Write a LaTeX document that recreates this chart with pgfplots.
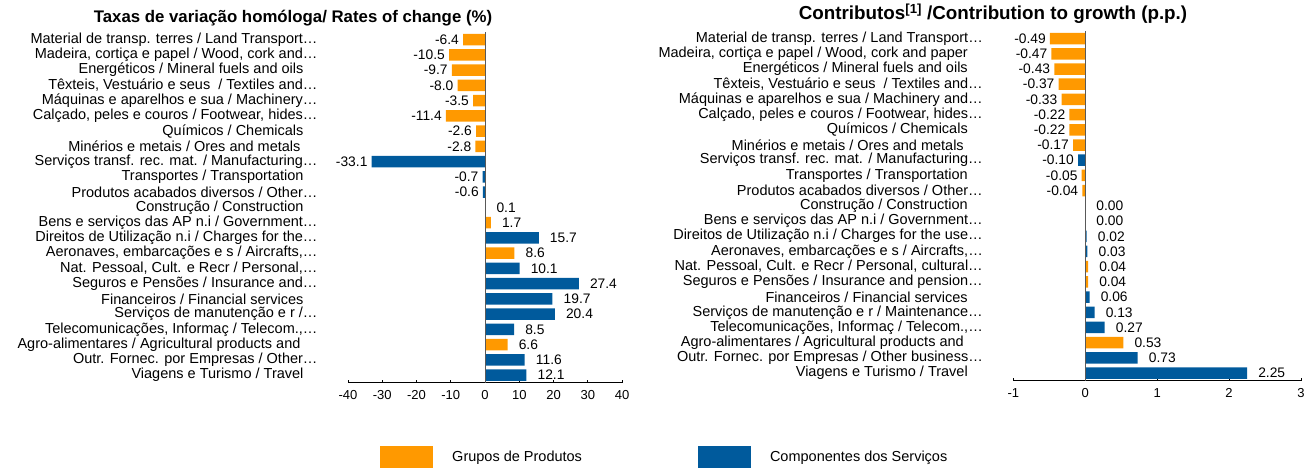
\documentclass[border=0pt]{standalone}
\usepackage{pgfplots}
\pgfplotsset{compat=1.18}
\usepackage{pgfplotstable}
\usepackage{fontspec}
\setmainfont{Liberation Sans}
\definecolor{cOrange}{HTML}{FF9900}
\definecolor{cBlue}{HTML}{005A9C}
\definecolor{zeroline}{HTML}{595959}

\pgfplotstableread{
row val
0 -6.4
1 -10.5
2 -9.7
3 -8.0
4 -3.5
5 -11.4
6 -2.6
7 -2.8
12 1.7
14 8.6
20 6.6
}\leftorange
\pgfplotstableread{
row val
8 -33.1
9 -0.7
10 -0.6
11 0.1
13 15.7
15 10.1
16 27.4
17 19.7
18 20.4
19 8.5
21 11.6
22 12.1
}\leftblue
\pgfplotstableread{
row val
0 -0.49
1 -0.47
2 -0.43
3 -0.37
4 -0.33
5 -0.22
6 -0.22
7 -0.17
9 -0.05
10 -0.04
11 0.00
12 0.00
15 0.04
16 0.04
20 0.53
}\rightorange
\pgfplotstableread{
row val
8 -0.10
13 0.02
14 0.03
17 0.06
18 0.13
19 0.27
21 0.73
22 2.25
}\rightblue

\newcommand{\gap}[1]{\hspace*{#1pt}}

\pgfplotsset{
  hbars/.style={
    scale only axis,
    clip=false,
    xbar, bar shift=0pt, bar width=11.5pt,
    y dir=reverse, ymin=-0.5, ymax=22.5,
    ytick={0,...,22},
    axis x line*=bottom, axis y line*=left,
    y axis line style={draw=none},
    ytick style={draw=none},
    x axis line style={black, line width=0.8pt},
    xtick style={black, line width=0.8pt},
    xtick align=inside, major tick length=3pt,
    tick label style={font=\fontsize{13}{14}\selectfont},
    xticklabel style={yshift=-4pt},
    yticklabel style={font=\fontsize{14.5}{15}\selectfont, xshift=-24pt},
    /pgf/number format/assume math mode=true,
    nodes near coords,
    nodes near coords align=horizontal,
    every node near coord/.append style={font=\fontsize{13.8}{15}\selectfont, black, xshift=3.5pt, inner xsep=7.5pt, yshift=0pt},
    every axis plot/.append style={draw=none},
    legend image code/.code={\path[##1,draw=none] (0pt,-11pt) rectangle (53pt,11pt);},
  }
}

\begin{document}
\begin{tikzpicture}
\path[use as bounding box] (0pt,0pt) rectangle (1316pt,469pt);

\node[font=\bfseries\fontsize{16.8}{18}\selectfont] at (293pt,451pt) {Taxas de variação homóloga/ Rates of change (\%)};
\node[font=\bfseries\fontsize{18.8}{20}\selectfont] at (993pt,455pt) {Contributos\textsuperscript{[1]} /Contribution to growth (p.p.)};

\begin{axis}[hbars,
  at={(348pt,86.3pt)}, anchor=south west,
  width=274pt, height=350.7pt,
  xmin=-40, xmax=40, xtick={-40,-30,...,40},
  nodes near coords={\pgfmathprintnumber[fixed,fixed zerofill,precision=1]{\pgfplotspointmeta}},
  yticklabels={
    Material de transp. terres / Land Transport…,
    {Madeira, cortiça e papel / Wood, cork and…},
    Energéticos / Mineral fuels and oils\gap{14},
    {Têxteis, Vestuário e seus\ \ / Textiles and…},
    Máquinas e aparelhos e sua / Machinery…,
    {Calçado, peles e couros / Footwear, hides…},
    Químicos / Chemicals\gap{14},
    Minérios e metais / Ores and metals\gap{17},
    Serviços transf. rec. mat. / Manufacturing…,
    Transportes / Transportation\gap{14},
    Produtos acabados diversos / Other…,
    Construção / Construction\gap{14},
    Bens e serviços das AP n.i / Government…,
    Direitos de Utilização n.i / Charges for the…,
    {Aeronaves, embarcações e s / Aircrafts,…},
    {Nat. Pessoal, Cult. e Recr / Personal,…},
    Seguros e Pensões / Insurance and…,
    Financeiros / Financial services\gap{14},
    Serviços de manutenção e r /…,
    {Telecomunicações, Informaç / Telecom.,…},
    Agro-alimentares / Agricultural products and\gap{17},
    Outr. Fornec. por Empresas / Other…,
    Viagens e Turismo / Travel\gap{14}
  },
  legend columns=2,
  legend style={draw=none, fill=none, at={(0.106,-0.212)}, anchor=west,
    font=\fontsize{14.5}{15}\selectfont,
    /tikz/every odd column/.append style={column sep=17pt},
    /tikz/every even column/.append style={column sep=114pt}},
]
\addplot[fill=cOrange] table[x=val, y=row] {\leftorange};
\addlegendentry{Grupos de Produtos}
\addplot[fill=cBlue] table[x=val, y=row] {\leftblue};
\addlegendentry{Componentes dos Serviços}
\draw[zeroline, line width=1pt] (axis cs:0,-0.5) -- (axis cs:0,22.5);
\end{axis}

\begin{axis}[hbars,
  at={(1013.3pt,88.3pt)}, anchor=south west,
  width=287.7pt, height=349.7pt,
  xmin=-1, xmax=3, xtick={-1,0,...,3},
  nodes near coords={\pgfmathprintnumber[fixed,fixed zerofill,precision=2]{\pgfplotspointmeta}},
  yticklabels={
    Material de transp. terres / Land Transport…,
    {Madeira, cortiça e papel / Wood, cork and paper\gap{15}},
    Energéticos / Mineral fuels and oils\gap{15},
    {Têxteis, Vestuário e seus\ \ / Textiles and…},
    Máquinas e aparelhos e sua / Machinery and…,
    {Calçado, peles e couros / Footwear, hides…},
    Químicos / Chemicals\gap{15},
    Minérios e metais / Ores and metals\gap{19},
    Serviços transf. rec. mat. / Manufacturing…,
    Transportes / Transportation\gap{15},
    Produtos acabados diversos / Other…,
    Construção / Construction\gap{15},
    Bens e serviços das AP n.i / Government…,
    Direitos de Utilização n.i / Charges for the use…,
    {Aeronaves, embarcações e s / Aircrafts,…},
    {Nat. Pessoal, Cult. e Recr / Personal, cultural…},
    Seguros e Pensões / Insurance and pension…,
    Financeiros / Financial services\gap{15},
    Serviços de manutenção e r / Maintenance…,
    {Telecomunicações, Informaç / Telecom.,…},
    Agro-alimentares / Agricultural products and\gap{19},
    Outr. Fornec. por Empresas / Other business…,
    Viagens e Turismo / Travel\gap{15}
  },
]
\addplot[fill=cOrange] table[x=val, y=row] {\rightorange};
\addplot[fill=cBlue] table[x=val, y=row] {\rightblue};
\draw[zeroline, line width=1pt] (axis cs:0,-0.5) -- (axis cs:0,22.5);
\end{axis}
\end{tikzpicture}
\end{document}
